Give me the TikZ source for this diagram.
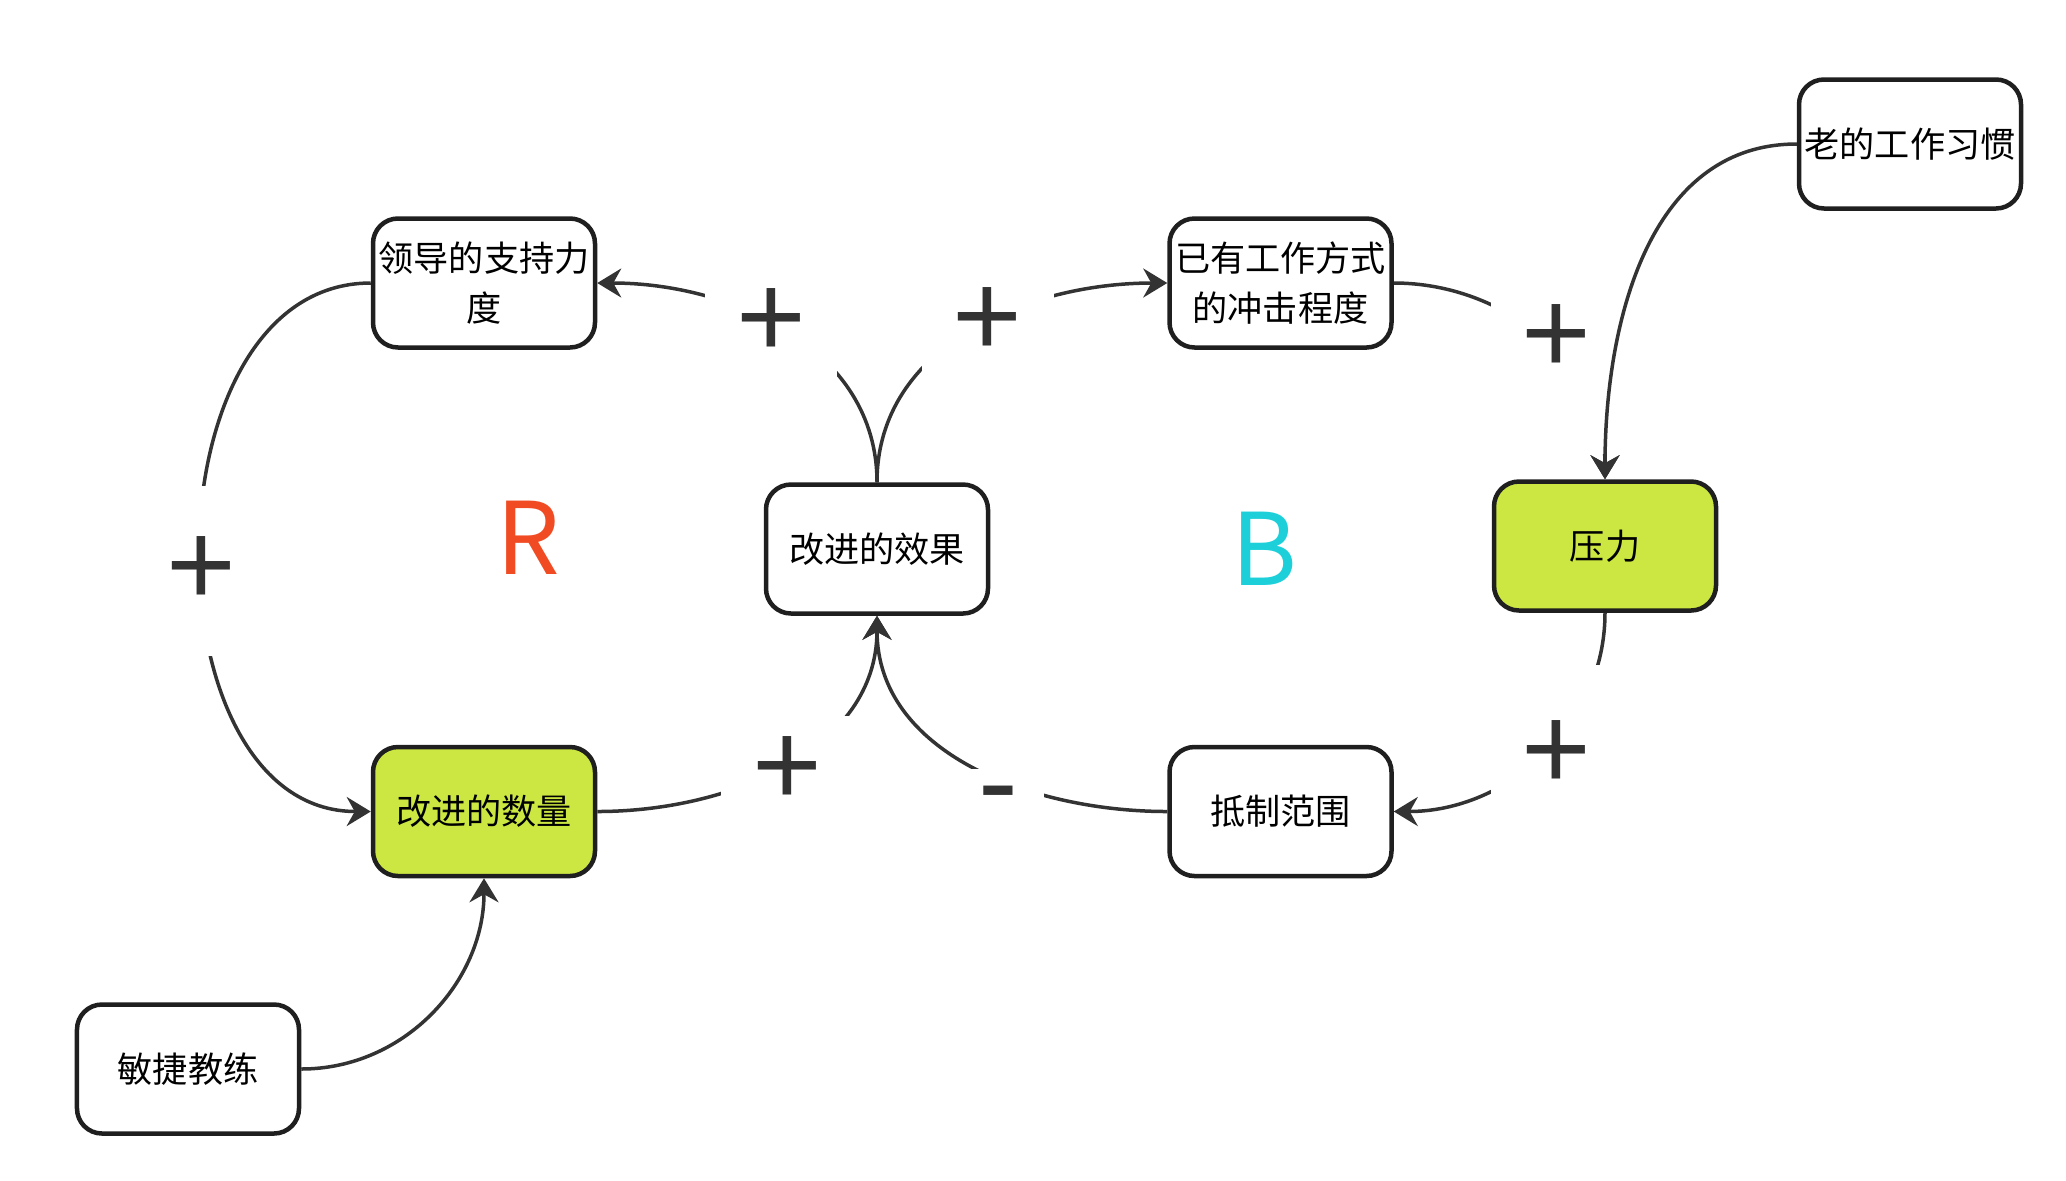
\documentclass[tikz,border=0pt]{standalone}
\usepackage{fontspec}
\setmainfont{Noto Sans CJK SC}
\newfontfamily\signfont{Liberation Sans}
\usetikzlibrary{positioning, arrows.meta}
\definecolor{lineGray}{HTML}{333333}
\definecolor{limeFill}{HTML}{CDE742}
\definecolor{loopRed}{HTML}{F04B23}
\definecolor{loopCyan}{HTML}{1CCFD9}

\begin{document}
\begin{tikzpicture}[
    x=0.2mm, y=0.2mm,
    font=\fontsize{20}{28}\selectfont,
    box/.style={draw=black!88, line width=0.9mm, rounded corners=5mm, align=center,
                minimum width=44.4mm, minimum height=25.8mm, inner sep=1pt, fill=white},
    arr/.style={-{Stealth[length=4.8mm, width=5.8mm, inset=1.6mm]}, line width=0.7mm, lineGray},
    sgn/.style={fill=white, text=lineGray, font=\signfont\fontsize{68}{68}\selectfont,
                minimum width=26.4mm, minimum height=22mm, inner sep=0pt},
    loopmark/.style={font=\fontsize{57}{57}\selectfont, inner sep=0pt},
  ]
  \useasboundingbox (0,0) rectangle (2066,-1180);
  \node[box] (lead) at (484,-283) {领导的支持力\\度};
  \node[box, fill=limeFill, below=79mm of lead] (num) {改进的数量};
  \node[box] (coach) at (188,-1069) {敏捷教练};
  \node[box] (eff) at (877,-549) {改进的效果};
  \node[box, right=114mm of lead] (impact) {已有工作方式\\的冲击程度};
  \node[box, below=79mm of impact] (resist) {抵制范围};
  \node[box, fill=limeFill] (press) at (1605,-546) {压力};
  \node[box] (habit) at (1910,-144) {老的工作习惯};
  \node[loopmark, text=loopRed] (rloop) at (528,-538) {R};
  \node[loopmark, text=loopCyan] (bloop) at (1264,-549) {B};
  % reinforcing loop
  \draw[arr] (eff.north) to[out=90, in=0] node[sgn, pos=0.55] {+} (lead.east);
  \draw[arr] (lead.west) to[out=180, in=180, looseness=1.1]
    node[sgn, pos=0.53, minimum height=34mm] {+} (num.west);
  \draw[arr] (num.east) to[out=0, in=-90] node[sgn, yshift=-1.5mm] {+} (eff.south);
  % balancing loop
  \draw[arr] (eff.north) to[out=90, in=180] node[sgn, pos=0.55] {+} (impact.west);
  \draw[arr] (impact.east) to[out=0, in=90]
    node[sgn, xshift=3mm, minimum height=46mm] {+} (press.north);
  \draw[arr] (press.south) to[out=-90, in=0]
    node[sgn, xshift=3mm, minimum height=36mm] {+} (resist.east);
  \draw[arr] (resist.west) to[out=180, in=-90]
    node[sgn, pos=0.42, yshift=-5mm, minimum width=18mm, minimum height=14mm] {-} (eff.south);
  % outside inputs
  \draw[arr] (habit.west) to[out=180, in=90] (press.north);
  \draw[arr] (coach.east) to[out=0, in=-90] (num.south);
\end{tikzpicture}
\end{document}
